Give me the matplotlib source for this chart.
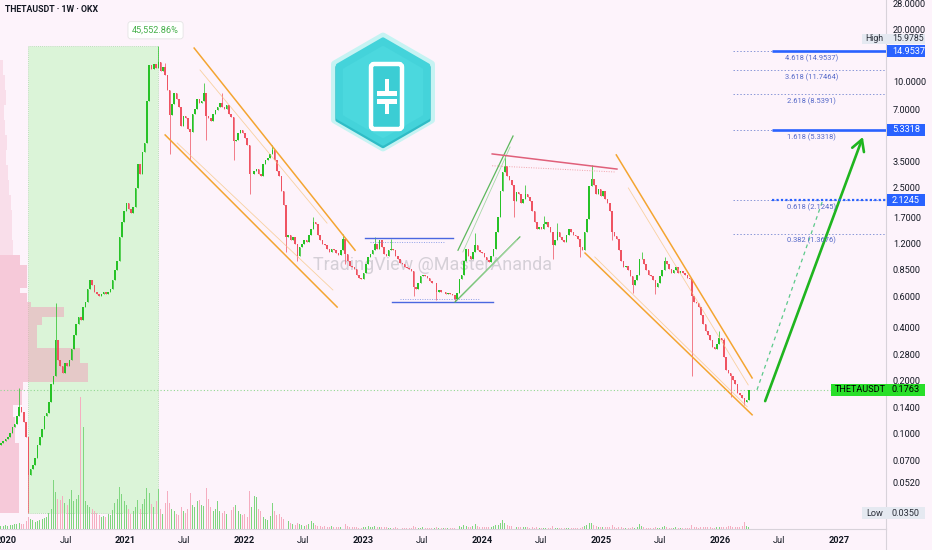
import numpy as np
import pandas as pd
import matplotlib
matplotlib.use("Agg")
import matplotlib.pyplot as plt
import matplotlib.dates as mdates
from matplotlib.patches import Rectangle, Polygon, FancyBboxPatch
from matplotlib.lines import Line2D
from matplotlib.transforms import blended_transform_factory
from matplotlib.ticker import NullLocator, NullFormatter

plt.rcParams['font.family'] = ['Roboto', 'DejaVu Sans']

# ---- weekly closes THETA/USDT (OKX), one list per year ----
first_week = '2019-12-16'
open0 = 0.085
c2019 = [0.088, 0.090, 0.093]
c2020 = [0.095, 0.100, 0.108, 0.112,
         0.125, 0.140, 0.132, 0.115,
         0.095, 0.058, 0.062, 0.066, 0.072,
         0.085, 0.095, 0.105, 0.125,
         0.130, 0.150, 0.190, 0.210,
         0.340, 0.260, 0.240, 0.220, 0.250,
         0.240, 0.260, 0.300, 0.360,
         0.420, 0.460, 0.440, 0.520, 0.560,
         0.660, 0.740, 0.700, 0.640,
         0.620, 0.600, 0.620, 0.640,
         0.620, 0.640, 0.660, 0.740, 0.850,
         0.950, 1.300, 1.600, 1.850]
c2021 = [2.05, 1.90, 1.80, 1.95,
         2.50, 3.40, 3.00, 4.00,
         4.50, 7.80, 12.50, 11.80, 12.60,
         12.00, 13.00, 11.50, 12.20,
         11.00, 9.00, 6.50, 7.50, 8.60,
         8.00, 7.20, 5.60, 6.40,
         6.20, 5.40, 5.20, 6.60,
         7.00, 8.00, 7.60, 7.80, 8.60,
         6.40, 6.20, 6.00, 6.60,
         6.90, 7.20, 7.60, 7.20,
         7.00, 7.40, 6.60, 6.30, 4.60,
         4.70, 5.10, 5.30, 5.10]
c2022 = [4.80, 4.40, 3.00, 3.00, 3.10,
         3.20, 3.00, 2.90, 3.40,
         3.60, 3.70, 3.90, 4.10,
         3.60, 3.10, 2.90, 2.40,
         2.00, 1.30, 1.35, 1.25, 1.30,
         1.20, 1.02, 1.15, 1.20,
         1.25, 1.22, 1.35, 1.45,
         1.60, 1.55, 1.35, 1.25, 1.20,
         1.18, 1.12, 1.08, 1.12,
         1.10, 1.06, 1.04, 1.10, 1.28,
         1.05, 0.95, 0.90, 0.88,
         0.86, 0.80, 0.76, 0.75]
c2023 = [0.82, 0.92, 1.00, 1.05, 1.10,
         1.20, 1.12, 1.25, 1.15,
         1.05, 1.02, 1.10, 1.12,
         1.10, 1.02, 0.98, 0.93,
         0.92, 0.88, 0.87, 0.86, 0.84,
         0.68, 0.66, 0.72, 0.78,
         0.80, 0.78, 0.76, 0.73, 0.72,
         0.72, 0.64, 0.65, 0.64,
         0.64, 0.62, 0.63, 0.62,
         0.61, 0.58, 0.63, 0.75, 0.80,
         0.95, 1.12, 1.02, 0.98,
         1.08, 1.18, 1.10, 1.08]
c2024 = [1.06, 1.00, 0.97, 0.94, 1.02,
         1.12, 1.40, 1.70, 2.40,
         3.05, 3.30, 2.90, 2.75,
         2.60, 2.10, 2.35, 2.30, 2.05,
         2.15, 2.30, 2.20, 2.10,
         1.85, 1.60, 1.45, 1.50,
         1.45, 1.55, 1.60, 1.50, 1.40,
         1.18, 1.25, 1.40, 1.30,
         1.25, 1.22, 1.35, 1.45, 1.40,
         1.35, 1.32, 1.28, 1.15,
         1.10, 1.40, 1.65, 2.55,
         2.80, 2.60, 2.30, 2.45, 2.25]
c2025 = [2.40, 2.15, 2.05, 1.85,
         1.40, 1.32, 1.28, 1.10,
         0.95, 0.88, 0.90, 0.85, 0.78,
         0.70, 0.74, 0.80, 0.98,
         0.98, 0.92, 0.85, 0.80,
         0.78, 0.74, 0.68, 0.72, 0.78,
         0.85, 0.96, 0.92, 0.86,
         0.82, 0.85, 0.88, 0.82,
         0.84, 0.82, 0.80, 0.76, 0.75,
         0.60, 0.56, 0.55, 0.52,
         0.47, 0.42, 0.38, 0.36,
         0.34, 0.31, 0.30, 0.32, 0.35]
c2026 = [0.34, 0.27, 0.23, 0.22,
         0.21, 0.20, 0.19, 0.17,
         0.165, 0.158, 0.150, 0.155, 0.1763]

# visible wicks (week -> price)
wick_high = {'2020-02-10': 0.18, '2020-06-01': 0.55, '2021-04-12': 15.9785,
             '2021-05-03': 12.8, '2021-08-30': 9.8, '2021-10-25': 8.6,
             '2022-03-28': 4.4, '2022-08-01': 1.70, '2022-10-31': 1.36,
             '2023-02-06': 1.30, '2023-03-27': 1.28, '2023-12-11': 1.38,
             '2024-03-11': 3.83, '2024-05-13': 2.6, '2024-07-08': 1.72,
             '2024-08-19': 1.57, '2024-12-02': 3.37, '2025-05-05': 1.07,
             '2025-07-14': 1.01, '2025-12-29': 0.38, '2026-01-12': 0.35}
wick_low = {'2020-03-09': 0.035, '2021-05-17': 3.9, '2021-07-19': 3.6,
            '2021-09-06': 4.7, '2021-11-29': 3.6, '2022-01-17': 2.3,
            '2022-05-09': 1.08, '2022-06-13': 0.95, '2022-11-07': 0.92,
            '2023-06-05': 0.60, '2023-08-14': 0.57, '2023-10-09': 0.56,
            '2024-04-08': 1.70, '2024-08-05': 0.98, '2024-10-28': 1.0,
            '2025-02-03': 1.25, '2025-04-07': 0.63, '2025-06-16': 0.62,
            '2025-10-06': 0.21, '2026-02-02': 0.16, '2026-03-16': 0.145}

# weekly volume (relative units)
v2019 = [3, 3, 4]
v2020 = [3, 4, 4, 5, 5, 6, 5, 5, 8, 12, 10, 9, 7, 8, 9, 10, 11,
         12, 16, 20, 49, 37, 30, 29, 33, 26, 24, 30, 39, 28,
         30, 34, 132, 102, 28, 24, 22, 20, 18, 16, 14, 12, 13,
         12, 15, 14, 19, 26, 30, 42, 35, 28]
v2021 = [24, 20, 15, 18, 22, 29, 20, 25, 30, 41, 36, 25, 22,
         28, 40, 20, 15, 26, 38, 26, 20, 18, 15, 14, 22, 18,
         16, 20, 36, 24, 22, 28, 29, 24, 23, 41, 30, 22, 18,
         20, 28, 18, 16, 18, 15, 17, 19, 22, 24, 18, 15, 14]
v2022 = [15, 12, 38, 22, 33, 32, 20, 18, 12, 10, 9, 13, 26,
         18, 14, 15, 12, 10, 23, 8, 6, 5, 4, 6, 5, 4,
         3, 4, 5, 8, 6, 4, 3, 3, 2, 3, 2, 2, 3,
         2, 2, 2, 2, 3, 5, 3, 2, 2, 2, 2, 1, 1]
v2023 = [2, 2, 3, 2, 2, 3, 2, 2, 2, 2, 2, 1, 1,
         1, 2, 1, 1, 1, 1, 1, 1, 1, 3, 2, 1, 1,
         2, 1, 1, 1, 1, 1, 2, 1, 1, 1, 1, 1, 1,
         1, 1, 2, 3, 2, 4, 3, 2, 2, 3, 5, 3, 2]
v2024 = [2, 2, 2, 2, 2, 3, 4, 4, 6, 9, 6, 4, 3,
         3, 4, 2, 2, 2, 2, 2, 2, 1, 2, 1, 2, 1,
         1, 1, 1, 1, 1, 3, 1, 1, 1, 1, 1, 1, 1, 1,
         1, 1, 1, 1, 2, 3, 4, 6, 6, 4, 3, 2, 2]
v2025 = [2, 2, 2, 2, 4, 2, 1, 2, 2, 1, 1, 1, 1,
         2, 1, 2, 5, 3, 2, 1, 1, 1, 1, 2, 1, 1,
         2, 3, 2, 1, 1, 1, 2, 1, 1, 1, 1, 1, 1,
         4, 2, 2, 1, 2, 2, 2, 2, 2, 1, 1, 2, 2]
v2026 = [2, 2, 2, 3, 3, 2, 2, 2, 2, 3, 7, 3, 2]

# visible-range volume profile (price row edges, volume per row)
profile_edges = [0.035, 0.055, 0.088, 0.123, 0.144, 0.176, 0.195, 0.25, 0.305,
                 0.352, 0.41, 0.46, 0.52, 0.56, 0.63, 0.67, 0.775, 0.906, 1.03,
                 1.26, 1.53, 1.86, 2.27, 2.76, 3.37, 4.1, 5.0, 6.1, 7.4, 9.0,
                 10.9, 13.3]
profile_vol = [19, 19, 15, 13, 22, 23, 88, 80, 37, 37, 42, 64, 31, 27, 20, 27,
               27, 20, 13, 12, 12, 11, 9, 8, 6, 7, 5, 4, 6, 5, 3]

# fibonacci extension
fib_ratios = [0.382, 0.618, 1.618, 2.618, 3.618, 4.618]
fib_prices = [1.3676, 2.1245, 5.3318, 8.5391, 11.7464, 14.9537]
fib_start = '2026-02-09'
fib_label_date = '2026-10-09'
ray_start = '2026-06-08'

# drawings: (date, price) anchors
channel_2021 = [(('2021-07-31', 15.6), ('2022-12-07', 1.10)),
                (('2021-05-03', 4.99), ('2022-10-13', 0.522))]
channel_2021_mid = [(('2021-08-18', 11.7), ('2022-09-12', 1.57)),
                    (('2021-06-09', 4.49), ('2022-09-30', 0.653))]
range_2023 = [(('2023-01-07', 1.29), ('2023-10-04', 1.29)),
              (('2023-03-30', 0.558), ('2024-02-04', 0.558))]
range_2023_dots = [(('2023-01-22', 1.226), ('2023-09-09', 1.226)),
                   (('2023-04-23', 0.58), ('2023-12-25', 0.58))]
channel_2024 = [(('2023-10-19', 1.10), ('2024-04-05', 4.92)),
                (('2023-10-10', 0.558), ('2024-04-26', 1.31))]
channel_2024_mid = [(('2023-11-03', 1.075), ('2024-03-27', 4.26)),
                    (('2023-10-25', 0.588), ('2024-04-17', 1.258))]
resist_2024 = (('2024-02-01', 3.89), ('2025-02-18', 3.19))
resist_2024_dots = (('2024-02-01', 3.33), ('2025-02-12', 3.07))
channel_2025 = [(('2025-02-16', 3.84), ('2026-04-09', 0.206)),
                (('2024-11-12', 1.06), ('2026-04-09', 0.127))]
channel_2025_mid = [(('2025-03-25', 2.49), ('2026-03-28', 0.188)),
                    (('2024-12-12', 1.007), ('2026-03-25', 0.141))]
target_arrow = (('2026-05-19', 0.152), ('2027-03-15', 4.86))
target_dash = (('2026-04-24', 0.1763), ('2026-11-12', 2.1245))

price_ticks = [28, 20, 10, 7, 3.5, 2.5, 1.7, 1.2, 0.85, 0.6, 0.4,
               0.28, 0.2, 0.14, 0.1, 0.07, 0.052]
x_ticks = ['2020-01-01', '2020-07-01', '2021-01-01', '2021-07-01', '2022-01-01',
           '2022-07-01', '2023-01-01', '2023-07-01', '2024-01-01', '2024-07-01',
           '2025-01-01', '2025-07-01', '2026-01-01', '2026-07-01', '2027-01-01']
x_labels = ['2020', 'Jul', '2021', 'Jul', '2022', 'Jul', '2023', 'Jul', '2024',
            'Jul', '2025', 'Jul', '2026', 'Jul', '2027']

# ---- build candles ----
W, H = 932, 550
BG = '#fdf3fb'
UP, DOWN = '#27c227', '#ef5362'

closes = np.array(c2019 + c2020 + c2021 + c2022 + c2023 + c2024 + c2025 + c2026)
volumes = np.array(v2019 + v2020 + v2021 + v2022 + v2023 + v2024 + v2025 + v2026)
dates = pd.date_range(first_week, periods=len(closes), freq='W-MON')
opens = np.concatenate([[open0], closes[:-1]])
highs = np.maximum(opens, closes)
lows = np.minimum(opens, closes)
for d, p in wick_high.items():
    highs[dates.get_loc(pd.Timestamp(d))] = p
for d, p in wick_low.items():
    lows[dates.get_loc(pd.Timestamp(d))] = p
x = mdates.date2num(dates)
up = closes >= opens


def dn(d):
    return mdates.datestr2num(d)


def seg(a, pair, **kw):
    (d0, p0), (d1, p1) = pair
    a.plot([dn(d0), dn(d1)], [p0, p1], **kw)


fig = plt.figure(figsize=(W / 100, H / 100), dpi=100, facecolor=BG)
ax = fig.add_axes([0, 21 / H, 886 / W, 529 / H])
ax.set_facecolor(BG)
ax.set_yscale('log')

# volume profile on the left
prof_tr = blended_transform_factory(ax.transAxes, ax.transData)
for lo, hi, v in zip(profile_edges[:-1], profile_edges[1:], profile_vol):
    a = 0.5 if hi <= 1.03 else 0.25
    ax.add_patch(Rectangle((0, lo), v / 886, hi - lo, transform=prof_tr,
                           fc='#f0a0b9', alpha=a, ec='none', zorder=1))

# low-to-high range box
i_lo, i_hi = np.argmin(lows), np.argmax(highs)
ax.add_patch(Rectangle((x[i_lo], lows[i_lo]), x[i_hi] - x[i_lo],
                       highs[i_hi] - lows[i_lo], fc='#d3f5d0', alpha=0.8,
                       ec='#9fd09f', lw=0.6, ls=(0, (1, 1.5)), zorder=0.5))
pct = (highs[i_hi] / lows[i_lo] - 1) * 100
ax.annotate(f'{pct:,.2f}%', xy=(x[i_hi], highs[i_hi]), xytext=(-2, 11.5),
            textcoords='offset points', ha='center', va='center',
            color='#45b04a', fontsize=6.6, zorder=8,
            bbox=dict(boxstyle='round,pad=0.45,rounding_size=0.3', fc='white',
                      ec='#e4e4e4', lw=0.6))

# watermark
ax.text(433 / W, 1 - 265 / H, 'TradingView @MasterAnanda', transform=fig.transFigure,
        ha='center', va='center', fontsize=13, color='#c4c1c8', alpha=0.7, zorder=1.5)

# candles
col = np.where(up, UP, DOWN)
ax.vlines(x, lows, highs, colors=col, lw=0.7, alpha=0.75, zorder=3)
b_lo = np.minimum(opens, closes)
b_hi = np.maximum(opens, closes)
ax.bar(x, b_hi - b_lo, bottom=b_lo, width=4.8, color=col, lw=0, zorder=4)

# current price line
ax.axhline(closes[-1], color='#92d892', lw=0.8, ls=(0, (1, 2)), zorder=2)

# channels and lines
for pr in channel_2021:
    seg(ax, pr, color='#f4a531', lw=1.1, zorder=5)
for pr in channel_2021_mid:
    seg(ax, pr, color='#f7c27a', lw=0.6, alpha=0.7, zorder=5)
for pr in range_2023:
    seg(ax, pr, color='#4a67e0', lw=1.0, zorder=5)
for pr in range_2023_dots:
    seg(ax, pr, color='#8fa0e8', lw=0.7, ls=(0, (1, 1.5)), zorder=5)
for pr in channel_2024:
    seg(ax, pr, color='#5cb85c', lw=0.9, zorder=5)
for pr in channel_2024_mid:
    seg(ax, pr, color='#a7d8a7', lw=0.6, zorder=5)
seg(ax, resist_2024, color='#e0607a', lw=1.1, zorder=5)
seg(ax, resist_2024_dots, color='#f0a0a8', lw=0.7, ls=(0, (1, 1.5)), zorder=5)
for pr in channel_2025:
    seg(ax, pr, color='#f4a531', lw=1.1, zorder=5)
for pr in channel_2025_mid:
    seg(ax, pr, color='#f7c27a', lw=0.6, alpha=0.7, zorder=5)
seg(ax, target_dash, color='#5cc98a', lw=0.9, ls=(0, (3, 3)), zorder=5)
(d0, p0), (d1, p1) = target_arrow
ax.annotate('', xy=(dn(d1), p1), xytext=(dn(d0), p0), zorder=6,
            arrowprops=dict(arrowstyle='->,head_length=0.8,head_width=0.45',
                            color='#1fb51f', lw=1.9, shrinkA=0, shrinkB=0))

# fibonacci levels
x_end = dn('2027-05-25')
for r, p in zip(fib_ratios, fib_prices):
    ax.plot([dn(fib_start), x_end], [p, p], color='#8a98d8', lw=0.7,
            ls=(0, (1.5, 2)), zorder=5)
    ax.annotate(f'{r:.3f} ({p:.4f})', xy=(dn(fib_label_date), p), xytext=(0, -2.5),
                textcoords='offset points', ha='center', va='top',
                color='#5468c8', fontsize=5.4, zorder=6)
for p in (fib_prices[5], fib_prices[2]):
    ax.plot([dn(ray_start), x_end], [p, p], color='#2962ff', lw=1.9, zorder=6,
            solid_capstyle='butt')
ax.plot([dn(ray_start), x_end], [fib_prices[1], fib_prices[1]], color='#2962ff',
        lw=1.6, ls=(0, (1, 1)), zorder=6)

# volume pane
ax_v = fig.add_axes(ax.get_position(), sharex=ax)
ax_v.patch.set_visible(False)
ax_v.set_axis_off()
ax_v.bar(x, volumes, width=3, color=np.where(up, '#7fd67f', '#f5adc0'), lw=0)
ax_v.set_ylim(0, 529)

# axes styling
ax.set_ylim(0.0284, 29.3)
ax.set_xlim(dn('2019-12-13'), x_end)
ax.yaxis.tick_right()
ax.set_yticks(price_ticks)
ax.set_yticklabels([f'{p:.4f}' for p in price_ticks])
ax.yaxis.set_minor_locator(NullLocator())
ax.yaxis.set_minor_formatter(NullFormatter())
ax.tick_params(axis='y', which='both', length=0, pad=5, labelsize=6.6,
               labelcolor='#131722')
ax.set_xticks(dn(x_ticks))
ax.set_xticklabels(x_labels)
for lbl, s in zip(ax.get_xticklabels(), x_labels):
    if s != 'Jul':
        lbl.set_fontweight('bold')
ax.tick_params(axis='x', length=0, pad=5, labelsize=6.6, labelcolor='#131722')
for s in ('top', 'left'):
    ax.spines[s].set_visible(False)
for s in ('right', 'bottom'):
    ax.spines[s].set_color('#d8d2da')
    ax.spines[s].set_linewidth(0.8)
fig.add_artist(Line2D([886 / W, 886 / W], [0, 21 / H], transform=fig.transFigure,
                      color='#d8d2da', lw=0.8))

fig.text(5 / W, 1 - 10 / H, 'THETAUSDT · 1W · OKX', fontsize=6.3, weight='bold',
         color='#131722', va='center', ha='left')


# price tags on the scale
def tag(price, parts, x0, x1, fc, dy=0.0, h=12, fs=6.6):
    yd = ax.transData.transform((ax.get_xlim()[0], price))[1] + dy
    fig.add_artist(Rectangle((x0 / W, (yd - h / 2) / H), (x1 - x0) / W, h / H,
                             transform=fig.transFigure, fc=fc, ec='none', zorder=5))
    for tx, s, c in parts:
        fig.text(tx / W, yd / H, s, color=c, fontsize=fs, va='center', ha='left',
                 zorder=6)


tag(highs[i_hi], [(865, 'High', '#2a2e39'), (892, f'{highs[i_hi]:.4f}', '#2a2e39')],
    862, 925, '#e5e9f1', dy=7.5, h=10, fs=6.3)
tag(lows[i_lo], [(866, 'Low', '#2a2e39'), (892, f'{lows[i_lo]:.4f}', '#2a2e39')],
    862, 925, '#e5e9f1')
for p in (fib_prices[5], fib_prices[2], fib_prices[1]):
    tag(p, [(892, f'{p:.4f}', 'white')], 887, 925, '#2962ff')
tag(closes[-1], [(835, 'THETAUSDT', 'black'), (892, f'{closes[-1]:.4f}', 'black')],
    831, 925, '#29df29')

# coin badge
lg = fig.add_axes([325 / W, 1 - 160 / H, 115 / W, 132 / H])
lg.set_xlim(325, 440)
lg.set_ylim(160, 28)
lg.axis('off')
cx, cy = 383, 92
hexagon = [(383, 36), (431.5, 64), (431.5, 120), (383, 148), (334.5, 120), (334.5, 64)]


def scaled(pts, s, dy=0.0):
    return [(cx + (px - cx) * s, cy + (py - cy) * s + dy) for px, py in pts]


lg.add_patch(Polygon(hexagon, closed=True, fc='#c6f3f3', ec='#c6f3f3', lw=5,
                     joinstyle='round'))
lg.add_patch(Polygon(scaled(hexagon, 0.94, 1.5), closed=True, fc='#2fbcc6',
                     ec='#2fbcc6', lw=3, joinstyle='round'))
lg.add_patch(Polygon(scaled(hexagon, 0.93, -0.5), closed=True, fc='#44d3da',
                     ec='#44d3da', lw=3, joinstyle='round'))
lg.add_patch(Polygon(scaled(hexagon, 0.80), closed=True, fc='#4bd8de',
                     ec='#4bd8de', lw=2, joinstyle='round'))
lg.add_patch(FancyBboxPatch((371, 64), 31, 65, boxstyle='round,pad=0,rounding_size=3',
                            fc='#3ccdd4', ec='white', lw=3.2))
for rx, ry, rw, rh in [(384.5, 79, 4.5, 12), (377, 91, 19.5, 4.5),
                       (377, 99, 19.5, 4.5), (384.5, 103.5, 4.5, 10)]:
    lg.add_patch(Rectangle((rx, ry), rw, rh, fc='white', ec='none'))

fig.savefig('out.png', dpi=100, facecolor=BG)
